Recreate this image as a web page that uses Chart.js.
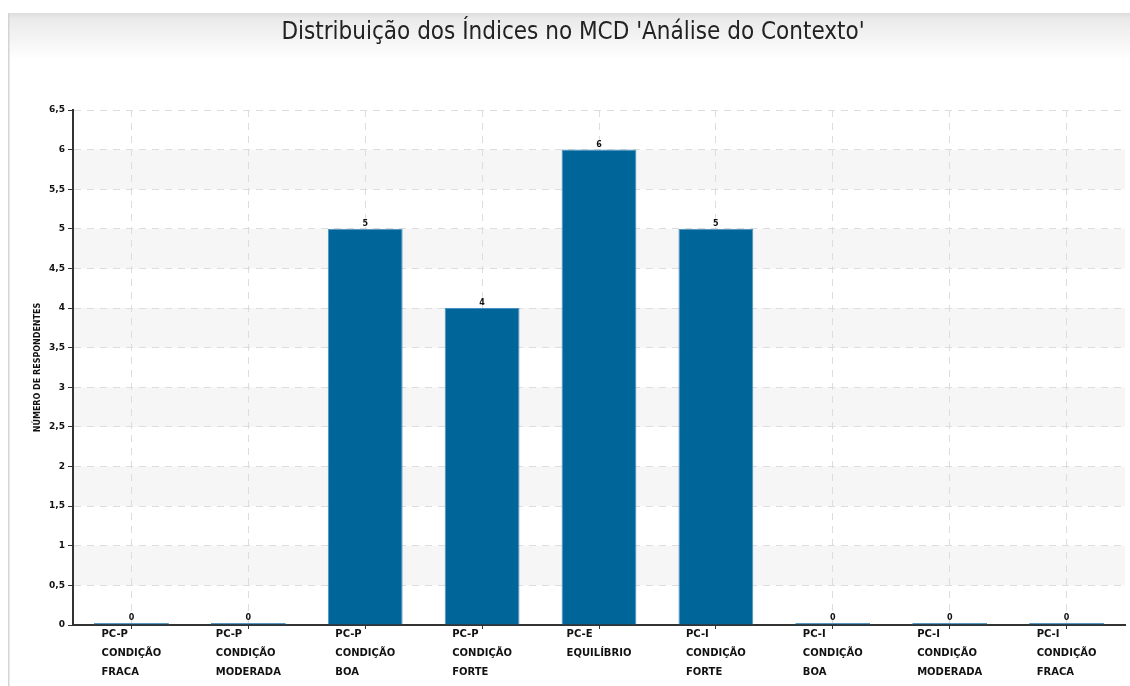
<!DOCTYPE html>
<html>
<head>
<meta charset="utf-8">
<script src="https://cdn.jsdelivr.net/npm/chart.js@4/dist/chart.umd.min.js"></script>
<style>
  html, body { margin: 0; padding: 0; background: #ffffff; }
  #wrap { width: 1130px; height: 686px; position: relative; }
</style>
</head>
<body>
<div id="wrap"><canvas id="c" width="1130" height="686"></canvas></div>
<script>
const chartTitle = "Distribuição dos Índices no MCD 'Análise do Contexto'";
const yAxisTitle = "NÚMERO DE RESPONDENTES";
const categories = [
  ["PC-P", "CONDIÇÃO", "FRACA"],
  ["PC-P", "CONDIÇÃO", "MODERADA"],
  ["PC-P", "CONDIÇÃO", "BOA"],
  ["PC-P", "CONDIÇÃO", "FORTE"],
  ["PC-E", "EQUILÍBRIO"],
  ["PC-I", "CONDIÇÃO", "FORTE"],
  ["PC-I", "CONDIÇÃO", "BOA"],
  ["PC-I", "CONDIÇÃO", "MODERADA"],
  ["PC-I", "CONDIÇÃO", "FRACA"]
];
const respondentes = [0, 0, 5, 4, 6, 5, 0, 0, 0];
const yMax = 6.5;
const yStep = 0.5;

const framePlugin = {
  id: 'frame',
  beforeDraw(chart) {
    const ctx = chart.ctx;
    ctx.save();
    ctx.fillStyle = '#ffffff';
    ctx.fillRect(0, 0, chart.width, chart.height);
    const g = ctx.createLinearGradient(0, 13, 0, 60);
    g.addColorStop(0, '#dcdcdc');
    g.addColorStop(0.12, '#eaeaea');
    g.addColorStop(1, '#ffffff');
    ctx.fillStyle = g;
    ctx.fillRect(8, 13, chart.width - 8, 47);
    ctx.fillStyle = '#d4d4d4';
    ctx.fillRect(8, 13, 1.5, chart.height - 13);
    ctx.fillStyle = '#222222';
    ctx.font = '24px "DejaVu Sans Condensed", "Liberation Sans Narrow", sans-serif';
    ctx.textAlign = 'center';
    ctx.textBaseline = 'middle';
    ctx.fillText(chartTitle, 573, 33);
    const y = chart.scales.y, a = chart.chartArea;
    ctx.fillStyle = '#f6f6f6';
    for (let v = 1; v <= yMax; v += 1) {
      const top = y.getPixelForValue(v), bot = y.getPixelForValue(v - 0.5);
      ctx.fillRect(a.left, top, a.right - a.left, bot - top);
    }
    ctx.restore();
  },
  afterDatasetsDraw(chart) {
    const ctx = chart.ctx;
    const meta = chart.getDatasetMeta(0);
    const x = chart.scales.x;
    ctx.save();
    ctx.fillStyle = '#111111';
    ctx.font = 'bold 8px "DejaVu Sans", sans-serif';
    ctx.textAlign = 'center';
    ctx.textBaseline = 'bottom';
    meta.data.forEach((bar, i) => {
      const top = Math.min(bar.y, bar.base);
      ctx.fillText(String(respondentes[i]), bar.x, top - 1);
    });
    ctx.font = 'bold 10px "DejaVu Sans", sans-serif';
    ctx.textAlign = 'left';
    ctx.textBaseline = 'middle';
    categories.forEach((lines, i) => {
      const cx = x.getPixelForValue(i);
      let w = 0;
      lines.forEach(l => { w = Math.max(w, ctx.measureText(l).width); });
      const lx = cx - w / 2;
      lines.forEach((l, k) => ctx.fillText(l, lx, 634 + k * 19));
    });
    ctx.restore();
  }
};

new Chart(document.getElementById('c'), {
  type: 'bar',
  data: {
    labels: categories,
    datasets: [{
      data: respondentes,
      backgroundColor: '#006699',
      borderColor: '#4a8fbf',
      borderWidth: 1,
      minBarLength: 2,
      categoryPercentage: 1,
      barPercentage: 0.64
    }]
  },
  options: {
    responsive: false,
    animation: false,
    layout: { padding: { top: 110, right: 5, left: 0, bottom: 0 } },
    plugins: {
      legend: { display: false },
      tooltip: { enabled: false }
    },
    scales: {
      x: {
        afterFit(s) { s.height = 61; },
        offset: true,
        grid: {
          offset: false,
          color: '#dddddd',
          tickBorderDash: [],
          tickColor: '#333333',
          tickLength: 4,
          lineWidth: 1
        },
        border: { color: '#333333', width: 2, dash: [7, 6] },
        ticks: { color: 'rgba(0,0,0,0)', font: { size: 9 }, padding: 0, maxRotation: 0, autoSkip: false }
      },
      y: {
        min: 0,
        max: yMax,
        afterFit(s) { s.width = 73; },
        grid: {
          color: '#dddddd',
          tickBorderDash: [],
          tickColor: '#333333',
          tickLength: 5,
          lineWidth: 1
        },
        border: { color: '#333333', width: 2, dash: [7, 6] },
        ticks: {
          stepSize: yStep,
          color: '#111111',
          padding: 3,
          font: { family: 'DejaVu Sans', size: 9, weight: 'bold' },
          callback: v => String(v).replace('.', ',')
        },
        title: {
          display: true,
          text: yAxisTitle,
          color: '#111111',
          font: { family: 'DejaVu Sans', size: 8, weight: 'bold' },
          padding: { top: 33, bottom: 0 }
        }
      }
    }
  },
  plugins: [framePlugin]
});
</script>
</body>
</html>
